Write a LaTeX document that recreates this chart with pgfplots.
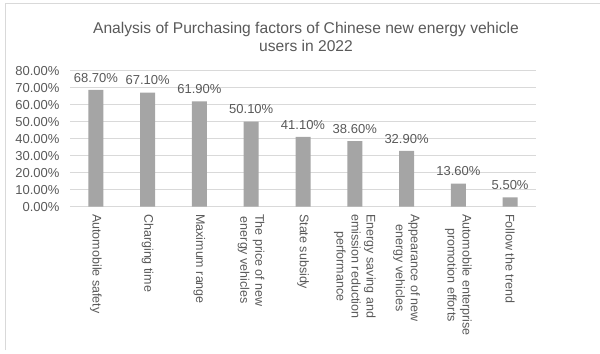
\documentclass[border=0pt]{standalone}
\usepackage{fontspec}
\setmainfont{Liberation Sans}
\usepackage{pgfplots}
\pgfplotsset{compat=1.18}
\definecolor{txt}{HTML}{595959}
\definecolor{barc}{HTML}{A5A5A5}
\definecolor{gridc}{HTML}{D9D9D9}
\begin{document}
\begin{tikzpicture}[x=1bp,y=1bp]
\path[use as bounding box] (0,0) rectangle (600,353);
\draw[gridc, line width=1bp] (5,3) -- (5,349) -- (600,349);
\node[anchor=north, align=center, inner sep=0pt, text=txt, font=\fontsize{15.6bp}{18bp}\selectfont] at (306,331)
  {Analysis of Purchasing factors of Chinese new energy vehicle\\users in 2022};
\begin{axis}[
  at={(70bp,146.3bp)}, anchor=south west,
  scale only axis, width=466bp, height=136bp,
  xmin=-0.5, xmax=8.5, ymin=0, ymax=80,
  ybar, bar width=15bp,
  axis line style={draw=none},
  major tick length=0pt,
  ymajorgrids, grid style={gridc, line width=0.8bp},
  ytick={0,10,...,80},
  yticklabel={\pgfmathprintnumber[fixed,fixed zerofill,precision=2]{\tick}\%},
  /pgf/number format/assume math mode=true,
  yticklabel style={text=txt, font=\fontsize{13bp}{15bp}\selectfont, xshift=-7bp},
  xtick=data,
  xticklabels={
    {Automobile safety},
    {Charging time},
    {Maximum range},
    {The price of new\\energy vehicles},
    {State subsidy},
    {Energy saving and\\emission reduction\\performance},
    {Appearance of new\\energy vehicles},
    {Automobile enterprise\\promotion efforts},
    {Follow the trend}},
  xticklabel shift=4bp,
  xticklabel style={rotate=-90, anchor=west, align=center, text=txt,
    font=\fontsize{12.5bp}{15bp}\selectfont},
  nodes near coords={\pgfmathprintnumber[fixed,fixed zerofill,precision=2,assume math mode=true]{\pgfplotspointmeta}\%},
  every node near coord/.append style={text=txt, font=\fontsize{13bp}{15bp}\selectfont, yshift=4bp},
  clip=false,
]
\addplot[fill=barc, draw=none] coordinates {
  (0,68.7) (1,67.1) (2,61.9) (3,50.1) (4,41.1) (5,38.6) (6,32.9) (7,13.6) (8,5.5)};
\end{axis}
\end{tikzpicture}
\end{document}
